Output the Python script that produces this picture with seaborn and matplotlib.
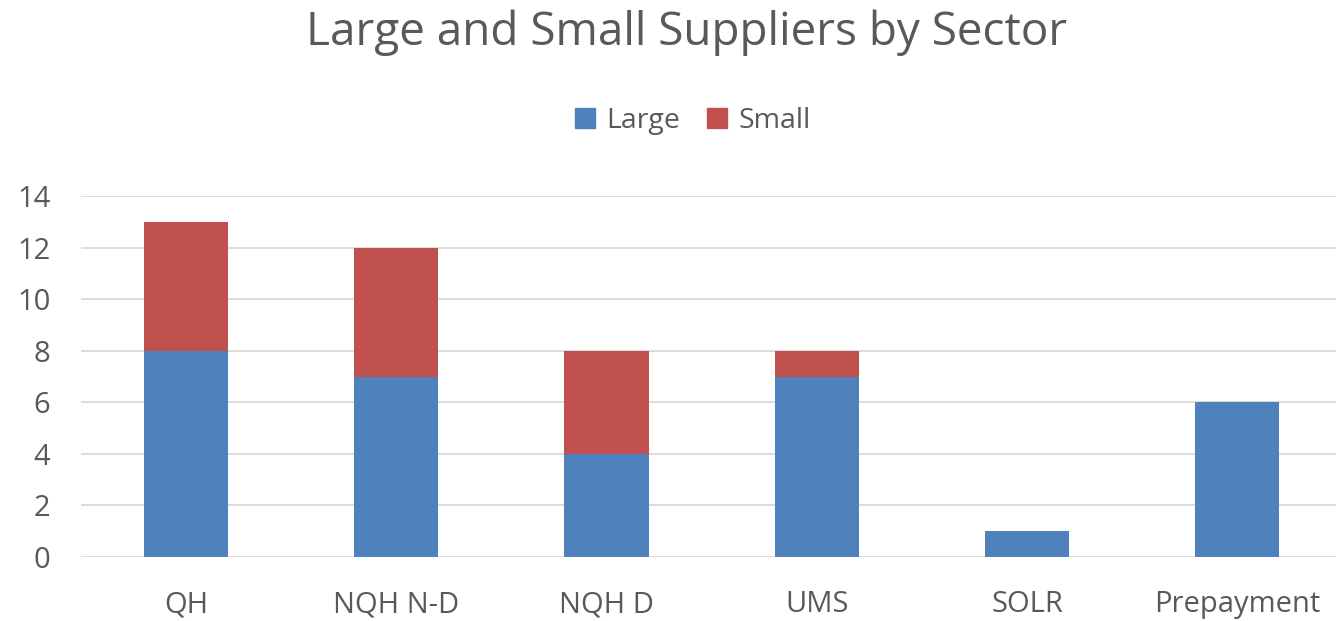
import pandas as pd
import matplotlib
matplotlib.use('Agg')
import matplotlib.pyplot as plt
import seaborn as sns
import matplotlib.patches as patches

# Chart data
sectors = ['QH', 'NQH N-D', 'NQH D', 'UMS', 'SOLR', 'Prepayment']
large = [8, 7, 4, 7, 1, 6]
small = [5, 5, 4, 1, 0, 0]

df = pd.DataFrame({'Sector': sectors, 'Large': large, 'Small': small})
df['Total'] = df['Large'] + df['Small']

blue = '#4F81BD'
red = '#C0504D'
text_col = '#595959'

sns.set_theme(style='white')
plt.rcParams['font.family'] = ['Open Sans', 'DejaVu Sans']

fig = plt.figure(figsize=(13.36, 6.21), dpi=100)
ax = fig.add_axes([0.0606, 0.103, 0.9394, 0.581])

# Stacked bars: totals in red, large drawn on top in blue
sns.barplot(data=df, x='Sector', y='Total', color=red, width=0.4,
            saturation=1, linewidth=0, ax=ax, zorder=2)
sns.barplot(data=df, x='Sector', y='Large', color=blue, width=0.4,
            saturation=1, linewidth=0, ax=ax, zorder=3)

ax.set_ylim(0, 14)
ax.set_xlim(-0.5, 5.47)
ax.set_yticks(range(0, 15, 2))
ax.yaxis.grid(True, color='#D9D9D9', linewidth=1.3, zorder=0)
ax.set_axisbelow(True)
for s in ax.spines.values():
    s.set_visible(False)
ax.set_xlabel('')
ax.set_ylabel('')
ax.tick_params(axis='both', length=0, labelsize=21, labelcolor=text_col)
ax.tick_params(axis='x', pad=24)
ax.tick_params(axis='y', pad=22)
for lbl in ax.get_yticklabels():
    lbl.set_horizontalalignment('right')

fig.text(0.514, 0.948, 'Large and Small Suppliers by Sector', ha='center',
         va='center', fontsize=33, color=text_col)

handles = [patches.Patch(color=blue, label='Large'),
           patches.Patch(color=red, label='Small')]
fig.legend(handles=handles, loc='center', bbox_to_anchor=(0.5185, 0.805),
           ncol=2, frameon=False, fontsize=20.5, labelcolor=text_col,
           handlelength=0.7, handleheight=0.7, handletextpad=0.4,
           columnspacing=0.95)

plt.savefig('out.png', dpi=100)
